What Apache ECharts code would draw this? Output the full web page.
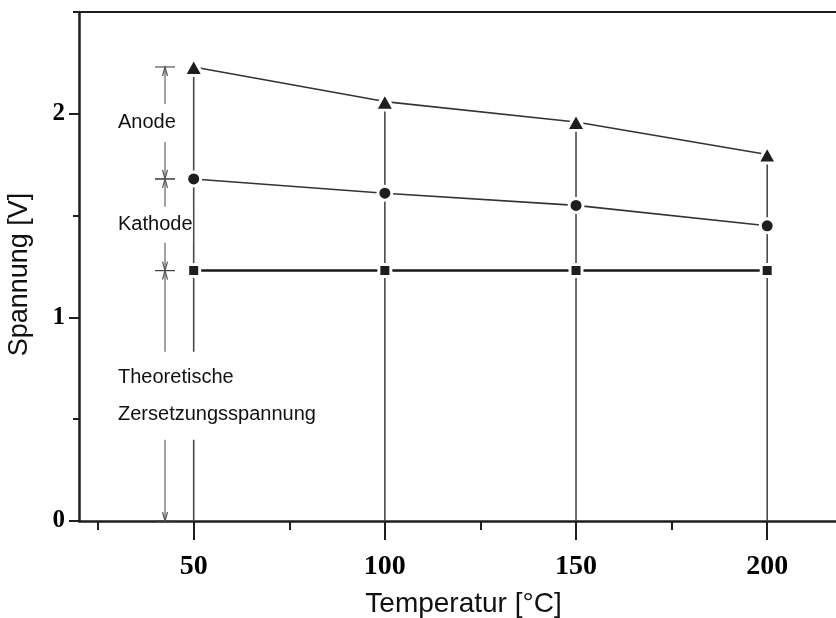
<!DOCTYPE html>
<html>
<head>
<meta charset="utf-8">
<script src="https://cdn.jsdelivr.net/npm/echarts@6/dist/echarts.min.js"></script>
<style>
  html, body { margin: 0; padding: 0; background: #fff; }
  #chart { width: 836px; height: 618px; }
</style>
</head>
<body>
<div id="chart"></div>
<script>
// Zellspannung einer Elektrolysezelle über der Temperatur
const temperatures = [50, 100, 150, 200];
const anodeVoltage = [2.23, 2.06, 1.96, 1.80];
const cathodeVoltage = [1.68, 1.61, 1.55, 1.45];
const theoreticalVoltage = [1.23, 1.23, 1.23, 1.23];

const xMajorTicks = [50, 100, 150, 200];
const xMinorTicks = [25, 75, 125, 175];
const yMajorTicks = [0, 1, 2];
const yMinorTicks = [0.5, 1.5, 2.5];

const bracketLabels = ['Anode', 'Kathode', 'Theoretische\nZersetzungsspannung'];

// Bemaßungspfeile links neben der 50-°C-Linie
const BRACKET_X = 42.5;
const bracketRanges = [
  [anodeVoltage[0], cathodeVoltage[0]],
  [cathodeVoltage[0], theoreticalVoltage[0]],
  [theoreticalVoltage[0], 0]
];
const labelBoxes = [
  { lineHeight: 18, padding: [10, 0, 10, 0] },
  { lineHeight: 18, padding: [9, 0, 9, 0] },
  { lineHeight: 37, padding: [1, 0, 13, 0] }
];

const INK = '#1e1e1e';
const X_MIN = 20, X_MAX = 218, Y_MIN = 0, Y_MAX = 2.5;

const chart = echarts.init(document.getElementById('chart'), null, { renderer: 'canvas' });

function arrowHead(tip, dir) {
  // dir = -1 zeigt nach oben, +1 nach unten
  return {
    type: 'polyline',
    shape: { points: [[tip[0] - 2.5, tip[1] - dir * 9], [tip[0], tip[1]], [tip[0] + 2.5, tip[1] - dir * 9]] },
    style: { stroke: '#555', lineWidth: 1.2, fill: null }
  };
}

const option = {
  animation: false,
  backgroundColor: '#fff',
  grid: { left: 79, right: 0, top: 12, bottom: 97, containLabel: false, outerBoundsMode: 'none' },
  xAxis: [
    {
      type: 'value', min: X_MIN, max: X_MAX, position: 'bottom',
      axisLine: { show: true, lineStyle: { color: INK, width: 2.5 } },
      axisTick: { show: true, inside: false, length: 19, customValues: xMajorTicks, lineStyle: { color: INK, width: 2 } },
      axisLabel: {
        customValues: xMajorTicks, margin: 32, color: '#000',
        fontFamily: 'Liberation Serif', fontWeight: 'bold', fontSize: 28
      },
      splitLine: { show: false },
      name: 'Temperatur [°C]', nameLocation: 'middle', nameGap: 69,
      nameTextStyle: { fontFamily: 'Liberation Sans', fontSize: 28, color: '#111', padding: [0, 0, 0, 12] }
    },
    {
      type: 'value', min: X_MIN, max: X_MAX, position: 'bottom',
      axisLine: { show: false },
      axisTick: { show: true, inside: false, length: 9, customValues: xMinorTicks, lineStyle: { color: INK, width: 2 } },
      axisLabel: { show: false },
      splitLine: { show: false }
    },
    {
      type: 'value', min: X_MIN, max: X_MAX, position: 'top',
      axisLine: { show: true, lineStyle: { color: INK, width: 2 } },
      axisTick: { show: false }, axisLabel: { show: false }, splitLine: { show: false }
    }
  ],
  yAxis: [
    {
      type: 'value', min: Y_MIN, max: Y_MAX, position: 'left',
      axisLine: { show: true, lineStyle: { color: INK, width: 2.5 } },
      axisTick: { show: true, inside: false, length: 10, customValues: yMajorTicks, lineStyle: { color: INK, width: 2 } },
      axisLabel: {
        customValues: yMajorTicks, margin: 14, color: '#000',
        fontFamily: 'Liberation Serif', fontWeight: 'bold', fontSize: 25
      },
      splitLine: { show: false },
      name: 'Spannung [V]', nameLocation: 'middle', nameRotate: 90, nameGap: 46,
      nameTextStyle: { fontFamily: 'Liberation Sans', fontSize: 27, color: '#111', padding: [0, 16, 0, 0] }
    },
    {
      type: 'value', min: Y_MIN, max: Y_MAX, position: 'left',
      axisLine: { show: false },
      axisTick: { show: true, inside: false, length: 6, customValues: yMinorTicks, lineStyle: { color: INK, width: 2 } },
      axisLabel: { show: false }, splitLine: { show: false }
    }
  ],
  series: [
    {
      // senkrechte Linien von der Achse bis zur Gesamtspannung
      type: 'custom', name: 'drop', silent: true, z: 1,
      data: temperatures.map((t, i) => [t, anodeVoltage[i]]),
      encode: { x: 0, y: 1 },
      renderItem: function (params, api) {
        const top = api.coord([api.value(0), api.value(1)]);
        const base = api.coord([api.value(0), 0]);
        return {
          type: 'line',
          shape: { x1: top[0], y1: top[1], x2: base[0], y2: base[1] },
          style: { stroke: '#4a4a4a', lineWidth: 1.6 }
        };
      }
    },
    {
      type: 'line', name: 'Anode', silent: true, z: 3,
      data: temperatures.map((t, i) => [t, anodeVoltage[i]]),
      symbol: 'triangle', symbolSize: [19, 17],
      itemStyle: { color: INK, borderColor: '#fff', borderWidth: 3 },
      lineStyle: { color: '#333', width: 1.6 }
    },
    {
      type: 'line', name: 'Kathode', silent: true, z: 3,
      data: temperatures.map((t, i) => [t, cathodeVoltage[i]]),
      symbol: 'circle', symbolSize: 14,
      itemStyle: { color: INK, borderColor: '#fff', borderWidth: 3 },
      lineStyle: { color: '#333', width: 1.6 }
    },
    {
      type: 'line', name: 'Theoretisch', silent: true, z: 3,
      data: temperatures.map((t, i) => [t, theoreticalVoltage[i]]),
      symbol: 'rect', symbolSize: 12,
      itemStyle: { color: INK, borderColor: '#fff', borderWidth: 3 },
      lineStyle: { color: '#1a1a1a', width: 2.6 }
    },
    {
      // Bemaßung mit Pfeilen, Endstrichen und Beschriftung
      type: 'custom', name: 'brackets', silent: true, z: 4,
      data: bracketRanges.map(r => [BRACKET_X, r[0], r[1]]),
      encode: { x: 0, y: [1, 2] },
      renderItem: function (params, api) {
        const i = params.dataIndex;
        const x = api.value(0);
        const hi = api.value(1), lo = api.value(2);
        const top = api.coord([x, hi]);
        const bot = api.coord([x, lo]);
        const mid = api.coord([x, (hi + lo) / 2]);
        const box = labelBoxes[i];
        return {
          type: 'group',
          children: [
            { type: 'line', shape: { x1: top[0], y1: top[1], x2: bot[0], y2: bot[1] }, style: { stroke: '#555', lineWidth: 1.1 } },
            { type: 'line', shape: { x1: top[0] - 10, y1: top[1], x2: top[0] + 10, y2: top[1] }, style: { stroke: '#444', lineWidth: 1.1 } },
            { type: 'line', shape: { x1: bot[0] - 10, y1: bot[1], x2: bot[0] + 10, y2: bot[1] }, style: { stroke: '#444', lineWidth: 1.1 } },
            arrowHead(top, -1),
            arrowHead(bot, 1),
            {
              type: 'text', x: mid[0] - 47, y: mid[1],
              style: {
                text: bracketLabels[i], fill: '#111',
                font: '20px "Liberation Sans"',
                align: 'left', verticalAlign: 'middle',
                lineHeight: box.lineHeight, padding: box.padding,
                backgroundColor: '#fff'
              }
            }
          ]
        };
      }
    }
  ]
};

chart.setOption(option);
</script>
</body>
</html>
